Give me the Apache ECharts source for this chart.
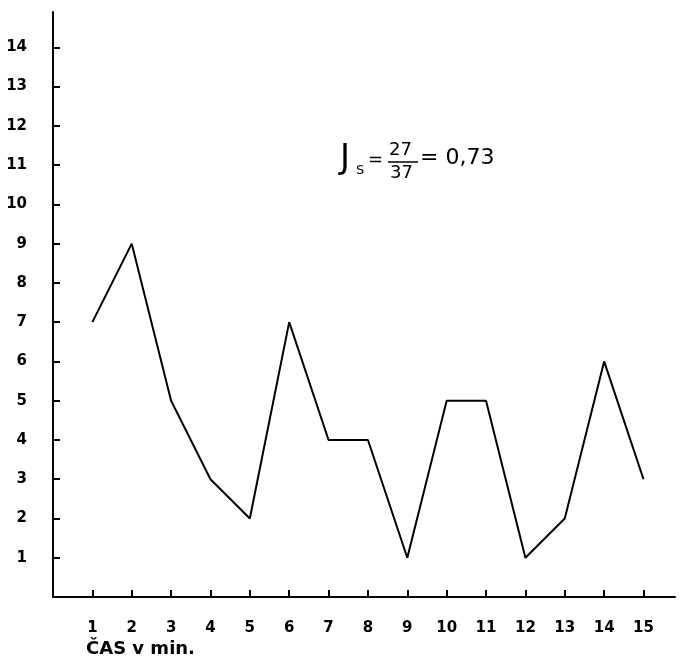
<!DOCTYPE html>
<html>
<head>
<meta charset="utf-8">
<script src="https://cdn.jsdelivr.net/npm/echarts@6/dist/echarts.min.js"></script>
<style>
html, body { margin: 0; padding: 0; background: #fff; }
#chart { width: 680px; height: 671px; }
</style>
</head>
<body>
<div id="chart"></div>
<script>
var minutes = [1, 2, 3, 4, 5, 6, 7, 8, 9, 10, 11, 12, 13, 14, 15];
var values = [7, 9, 5, 3, 2, 7, 4, 4, 1, 5, 5, 1, 2, 6, 3];
var xTicks = [1, 2, 3, 4, 5, 6, 7, 8, 9, 10, 11, 12, 13, 14, 15];
var yTicks = [1, 2, 3, 4, 5, 6, 7, 8, 9, 10, 11, 12, 13, 14];

var font = '"DejaVu Sans", sans-serif';
var chart = echarts.init(document.getElementById('chart'));

var option = {
    backgroundColor: '#fff',
    animation: false,
    grid: {
        left: 53,
        right: 5,
        top: 12,
        bottom: 74
    },
    xAxis: {
        type: 'value',
        min: 0,
        max: 15.8,
        axisLine: { lineStyle: { color: '#000', width: 2 } },
        axisTick: {
            show: true,
            inside: true,
            length: 7,
            customValues: xTicks,
            lineStyle: { color: '#000', width: 2 }
        },
        axisLabel: {
            customValues: xTicks,
            margin: 24,
            color: '#000',
            fontFamily: font,
            fontWeight: 'bold',
            fontSize: 15
        },
        splitLine: { show: false }
    },
    yAxis: {
        type: 'value',
        min: 0,
        max: 14.9,
        axisLine: { show: true, lineStyle: { color: '#000', width: 2 } },
        axisTick: {
            show: true,
            inside: true,
            length: 7,
            customValues: yTicks,
            lineStyle: { color: '#000', width: 2 }
        },
        axisLabel: {
            customValues: yTicks,
            margin: 26,
            color: '#000',
            fontFamily: font,
            fontWeight: 'bold',
            fontSize: 15
        },
        splitLine: { show: false }
    },
    series: [{
        type: 'line',
        data: minutes.map(function (m, i) { return [m, values[i]]; }),
        showSymbol: false,
        lineStyle: { color: '#000', width: 2 }
    }],
    graphic: [
        {
            type: 'text', left: 86, top: 640,
            style: { text: 'ČAS v min.', font: 'bold 18px ' + font, fill: '#000' }
        },
        {
            type: 'text', left: 340, top: 142,
            style: { text: 'J', font: '34px ' + font, fill: '#000' }
        },
        {
            type: 'text', left: 356, top: 164,
            style: { text: 'S', font: '13px ' + font, fill: '#000' }
        },
        {
            type: 'text', left: 368, top: 151,
            style: { text: '=', font: '18px ' + font, fill: '#000' }
        },
        {
            type: 'text', left: 389, top: 141,
            style: { text: '27', font: '18px ' + font, fill: '#000' }
        },
        {
            type: 'line',
            shape: { x1: 388, y1: 162, x2: 418, y2: 162 },
            style: { stroke: '#000', lineWidth: 1.5 }
        },
        {
            type: 'text', left: 390, top: 164,
            style: { text: '37', font: '18px ' + font, fill: '#000' }
        },
        {
            type: 'text', left: 420, top: 147,
            style: { text: '= 0,73', font: '22px ' + font, fill: '#000' }
        }
    ]
};

chart.setOption(option);
</script>
</body>
</html>
